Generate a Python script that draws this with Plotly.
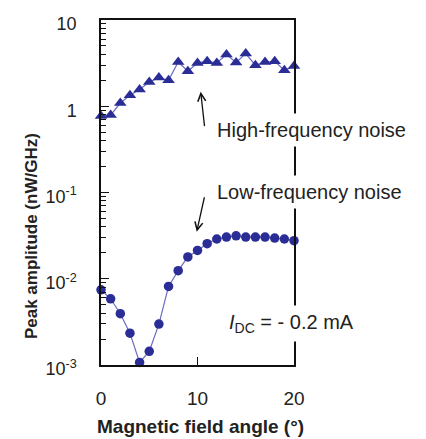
import plotly.graph_objects as go

# ---- data ----
angles = list(range(21))
hf_noise = [0.77, 0.79, 1.09, 1.34, 1.56, 1.91, 2.15, 2.0, 3.26, 2.55, 3.18,
            3.32, 3.18, 3.97, 3.21, 4.08, 2.99, 3.26, 3.32, 2.61, 2.93]
lf_noise = [0.00745, 0.00586, 0.00393, 0.00234, 0.00107, 0.00144, 0.00298,
            0.00815, 0.0124, 0.0179, 0.0213, 0.0255, 0.0289, 0.0304, 0.0315,
            0.0304, 0.0304, 0.0304, 0.0296, 0.0289, 0.0276]
x_ticks = [0, 10, 20]
y_ticks = [10, 1, 0.1, 0.01, 0.001]
y_ticklabels = ["10", "1", "10<sup>-1</sup>", "10<sup>-2</sup>", "10<sup>-3</sup>"]
y_minor = [k * 10 ** e for e in range(-3, 1) for k in range(2, 10)]

FONT = "Liberation Sans, Arial, sans-serif"
MARK = "#2a2d96"
LINE = "#6b6bc2"
TXT = "#222"

fig = go.Figure()
fig.add_trace(go.Scatter(
    x=angles, y=hf_noise, mode="lines+markers", cliponaxis=False,
    line=dict(color=LINE, width=1.2),
    marker=dict(symbol="triangle-up", size=11, color=MARK),
    showlegend=False))
fig.add_trace(go.Scatter(
    x=angles, y=lf_noise, mode="lines+markers", cliponaxis=False,
    line=dict(color=LINE, width=1.2),
    marker=dict(symbol="circle", size=9.5, color=MARK),
    showlegend=False))

annotations = [
    # arrows
    dict(x=10.33, y=0.169, xref="x", yref="y", text="", showarrow=True,
         ax=4, ay=36, arrowhead=5, arrowsize=1.2, arrowwidth=1.3, arrowcolor="#111"),
    dict(x=9.92, y=-1.455, xref="x", yref="y", text="", showarrow=True,
         ax=8, ay=-36, arrowhead=5, arrowsize=1.2, arrowwidth=1.3, arrowcolor="#111"),
    # labels
    dict(x=11.45, y=-0.275, xref="x", yref="y", text="High-frequency noise",
         showarrow=False, xanchor="left", yanchor="middle", bgcolor="white",
         borderpad=5, font=dict(size=20, color=TXT, family=FONT)),
    dict(x=11.4, y=-0.991, xref="x", yref="y", text="Low-frequency noise",
         showarrow=False, xanchor="left", yanchor="middle", bgcolor="white",
         borderpad=5, font=dict(size=20, color=TXT, family=FONT)),
    dict(x=12.6, y=-2.52, xref="x", yref="y",
         text="<i>I</i><sub>DC</sub> = - 0.2 mA",
         showarrow=False, xanchor="left", yanchor="middle", bgcolor="white",
         borderpad=5, font=dict(size=20, color=TXT, family=FONT)),
    # axis titles
    dict(x=-0.357, y=0.374, xref="paper", yref="paper",
         text="<b>Peak amplitude (nW/GHz)</b>", textangle=-90,
         showarrow=False, xanchor="center", yanchor="middle",
         font=dict(size=17, color=TXT, family=FONT)),
    dict(x=0.518, y=-0.177, xref="paper", yref="paper",
         text="<b>Magnetic field angle (°)</b>",
         showarrow=False, xanchor="center", yanchor="middle",
         font=dict(size=19, color=TXT, family=FONT)),
]

fig.update_layout(
    width=426, height=439,
    margin=dict(l=101, r=132, t=20, b=74),
    paper_bgcolor="white", plot_bgcolor="white",
    font=dict(family=FONT, color=TXT),
    annotations=annotations,
    xaxis=dict(
        range=[0, 20], tickvals=x_ticks, ticks="inside", ticklen=8,
        tickwidth=1.3, tickcolor="#111",
        showline=True, linecolor="#111", linewidth=1.5, mirror=True,
        showgrid=False, zeroline=False, ticklabelstandoff=15,
        tickfont=dict(size=19, family=FONT, color=TXT)),
    yaxis=dict(
        type="log", range=[-3, 1], tickvals=y_ticks, ticktext=y_ticklabels,
        ticks="inside", ticklen=8, tickwidth=1.3, tickcolor="#111",
        minor=dict(tickvals=y_minor, ticks="inside", ticklen=5,
                   tickwidth=1.1, tickcolor="#111", showgrid=False),
        showline=True, linecolor="#111", linewidth=1.5, mirror=True,
        showgrid=False, zeroline=False, ticklabelstandoff=19,
        ticklabelshift=4,
        tickfont=dict(size=18, family=FONT, color=TXT)),
)

fig.write_html("out.html",
               config={"displayModeBar": False},
               post_script="document.body.style.margin='0';document.body.style.padding='0';")
